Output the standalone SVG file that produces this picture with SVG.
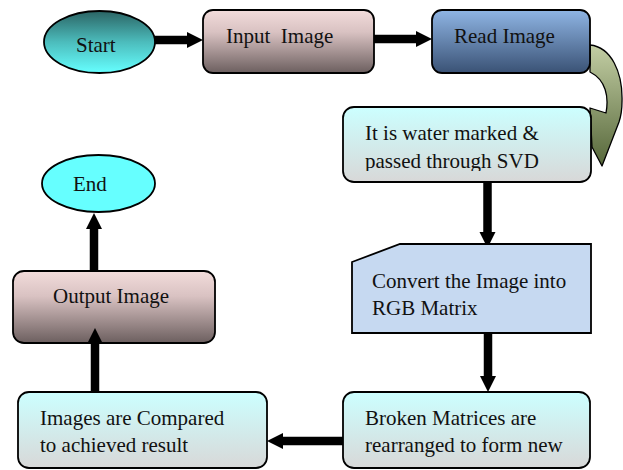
<svg xmlns="http://www.w3.org/2000/svg" width="623" height="470" viewBox="0 0 623 470">
<defs>
<style>
.t{font-family:"Liberation Serif","Times New Roman",serif;font-size:21px;fill:#111;white-space:pre}
.bx{stroke:#000;stroke-width:1.8}
.cn{stroke:#000;stroke-width:8.5;fill:none}
</style>
<linearGradient id="gStart" x1="0" y1="0" x2="0" y2="1"><stop offset="0" stop-color="#2b6464"/><stop offset="0.5" stop-color="#4cbcbc"/><stop offset="1" stop-color="#66ffff"/></linearGradient>
<linearGradient id="gPink" x1="0" y1="0" x2="0" y2="1"><stop offset="0" stop-color="#f2dcdb"/><stop offset="0.35" stop-color="#d9c2c2"/><stop offset="1" stop-color="#6c5f5f"/></linearGradient>
<linearGradient id="gBlue" x1="0" y1="0" x2="0" y2="1"><stop offset="0" stop-color="#8fb5e4"/><stop offset="1" stop-color="#3a5275"/></linearGradient>
<linearGradient id="gCyan" x1="0" y1="0" x2="0" y2="1"><stop offset="0" stop-color="#ccffff"/><stop offset="1" stop-color="#d8d8d8"/></linearGradient>
<linearGradient id="gOlive" x1="0" y1="0" x2="0" y2="1"><stop offset="0" stop-color="#c3cea4"/><stop offset="1" stop-color="#56673a"/></linearGradient>
<marker id="ah" markerUnits="userSpaceOnUse" markerWidth="18" markerHeight="18" refX="0" refY="8" orient="auto" overflow="visible"><path d="M0,0 L16,8 L0,16 Z" fill="#000"/></marker>
<clipPath id="clipW"><rect x="343" y="107" width="249" height="64"/></clipPath>
</defs>

<g id="connectors">
<line class="cn" x1="155" y1="40" x2="187" y2="40" marker-end="url(#ah)"/>
<line class="cn" x1="374" y1="39" x2="416" y2="39" marker-end="url(#ah)"/>
<line class="cn" x1="487.5" y1="182" x2="487.5" y2="232" marker-end="url(#ah)"/>
<line class="cn" x1="488" y1="333" x2="488" y2="376" marker-end="url(#ah)"/>
<line class="cn" x1="343" y1="441" x2="283" y2="441" marker-end="url(#ah)"/>
<line class="cn" x1="94" y1="271" x2="94" y2="229" marker-end="url(#ah)"/>
<path d="M590,45 C611,47 623,72 622,102 C622,110 621,116 619,122 L602,166 L592,147 L590,108 L606,113 C609,97 606,80 590,72 Z" fill="url(#gOlive)" stroke="#000" stroke-width="1.3" stroke-linejoin="round"/>
</g>

<g id="start">
<ellipse class="bx" cx="99.5" cy="42" rx="55.5" ry="31" fill="url(#gStart)"/>
<text class="t" x="76" y="52">Start</text>
</g>

<g id="input">
<rect class="bx" x="203" y="10" width="171" height="63" rx="10" fill="url(#gPink)"/>
<text class="t" x="226" y="43">Input  Image</text>
</g>

<g id="read">
<rect class="bx" x="432" y="10" width="158" height="63" rx="10" fill="url(#gBlue)"/>
<text class="t" x="454" y="43">Read Image</text>
</g>

<g id="watermark">
<rect class="bx" x="343" y="107" width="248" height="75" rx="11" fill="url(#gCyan)"/>
<g clip-path="url(#clipW)">
<text class="t" x="365" y="140">It is water marked &amp;</text>
<text class="t" x="365" y="168">passed through SVD</text>
</g>
</g>

<g id="convert">
<path class="bx" d="M400,244 L591,244 L591,333 L352,333 L352,262 Z" fill="#c6d9f1"/>
<text class="t" x="372" y="288">Convert the Image into</text>
<text class="t" x="372" y="315">RGB Matrix</text>
</g>

<g id="broken">
<rect class="bx" x="343" y="392" width="247" height="76" rx="11" fill="url(#gCyan)"/>
<text class="t" x="365" y="425">Broken Matrices are</text>
<text class="t" x="365" y="452">rearranged to form new</text>
</g>

<g id="compared">
<rect class="bx" x="18" y="392" width="249" height="76" rx="11" fill="url(#gCyan)"/>
<text class="t" x="40" y="425">Images are Compared</text>
<text class="t" x="40" y="452">to achieved result</text>
</g>

<g id="output">
<rect class="bx" x="13" y="271" width="202" height="72" rx="11" fill="url(#gPink)"/>
<text class="t" x="53" y="303">Output Image</text>
</g>

<g id="connector-up">
<line class="cn" x1="95" y1="392" x2="95" y2="344" marker-end="url(#ah)"/>
</g>

<g id="end">
<ellipse class="bx" cx="98.5" cy="183.5" rx="56.5" ry="28.5" fill="#66ffff"/>
<text class="t" x="73" y="191">End</text>
</g>
</svg>
